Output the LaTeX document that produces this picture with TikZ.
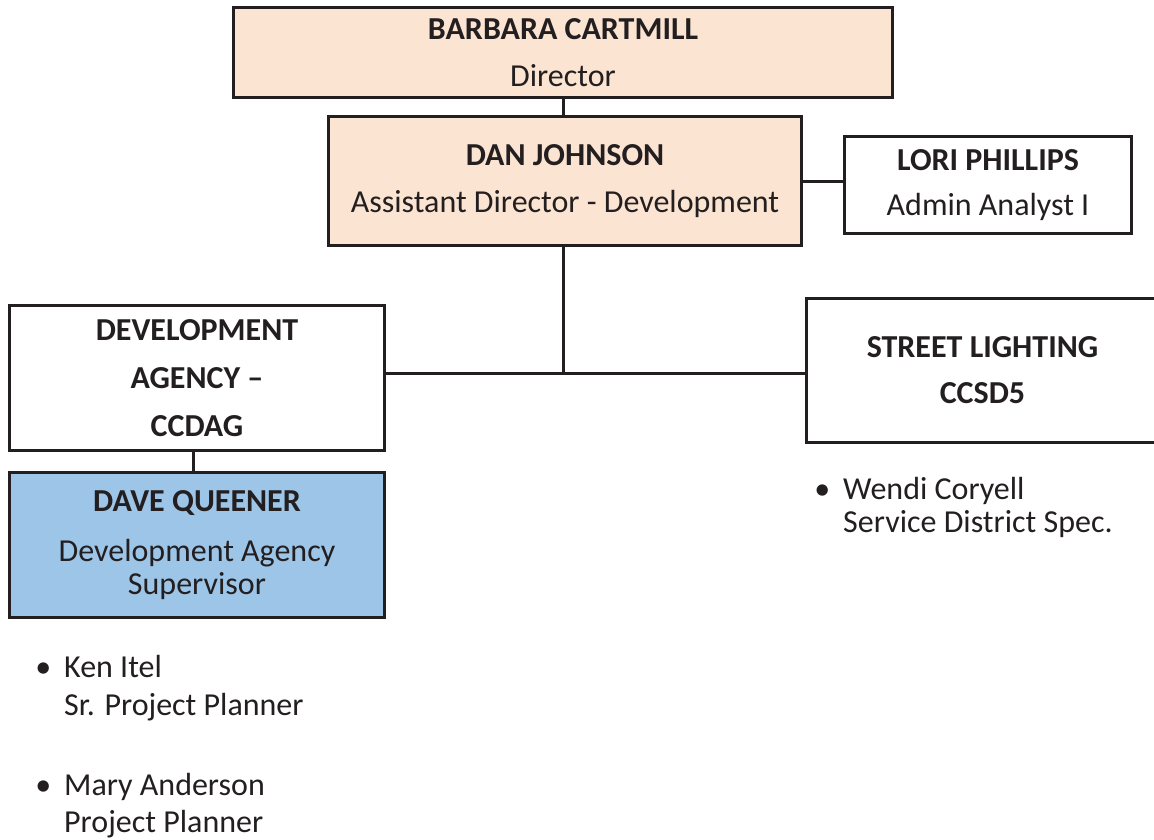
\documentclass[tikz,border=0pt]{standalone}
\usepackage{fontspec}
\setmainfont{Carlito}
\definecolor{peach}{HTML}{FCE4D2}
\definecolor{sky}{HTML}{9CC5E8}
\definecolor{ink}{HTML}{231F20}
\begin{document}
\begin{tikzpicture}[x=1pt,y=-1pt,
  box/.style={draw=ink,line width=3pt,anchor=north west,inner sep=0pt,align=center,
    text=ink,font=\fontsize{32}{47}\selectfont},
  conn/.style={draw=ink,line width=3pt},
  item/.style={anchor=north west,inner sep=0pt,align=left,text=ink,
    font=\fontsize{32}{38}\selectfont}]
\useasboundingbox[fill=white] (0,0) rectangle (1154,840);
\node[box,fill=peach,minimum width=659pt,minimum height=90pt] (bc) at (232,6)
  {\textbf{BARBARA CARTMILL}\\Director};
\node[box,fill=peach,minimum width=473pt,minimum height=129pt] (dj) at (327,115)
  {\textbf{DAN JOHNSON}\\Assistant Director - Development};
\node[box,fill=white,minimum width=287pt,minimum height=97pt,
  font=\fontsize{32}{45}\selectfont] (lp) at (843,135)
  {\textbf{LORI PHILLIPS}\\Admin Analyst I};
\node[box,fill=white,minimum width=375pt,minimum height=145pt,
  font=\fontsize{32}{48}\selectfont] (da) at (8,304)
  {\textbf{DEVELOPMENT}\\\textbf{AGENCY –}\\\textbf{CCDAG}};
\node[box,fill=white,minimum width=352pt,minimum height=144pt,
  font=\fontsize{32}{46}\selectfont] (sl) at (805,297)
  {\textbf{STREET LIGHTING}\\\textbf{CCSD5}};
\node[box,fill=sky,minimum width=375pt,minimum height=145pt,
  font=\fontsize{32}{33}\selectfont] (dq) at (8,471)
  {\textbf{DAVE QUEENER}\\[17pt]Development Agency\\Supervisor};
\coordinate (j) at (563,373);
\draw[conn] (bc.south -| j) -- (dj.north -| j);
\draw[conn] (dj.east) -- (lp.west |- dj.east);
\draw[conn] (dj.south -| j) -- (j);
\draw[conn] (da.east |- j) -- (sl.west |- j);
\draw[conn] (da.south -| 193,0) -- (dq.north -| 193,0);
\node[item,font=\fontsize{32}{33}\selectfont] (wc) at (843,477) {\llap{•\hspace{13pt}}Wendi Coryell\\Service District Spec.};
\node[item] (ki) at (64,655) {\llap{•\hspace{13pt}}Ken Itel\\Sr. Project Planner};
\node[item,font=\fontsize{32}{37}\selectfont] (ma) at (64,773) {\llap{•\hspace{13pt}}Mary Anderson\\Project Planner};
\end{tikzpicture}
\end{document}
